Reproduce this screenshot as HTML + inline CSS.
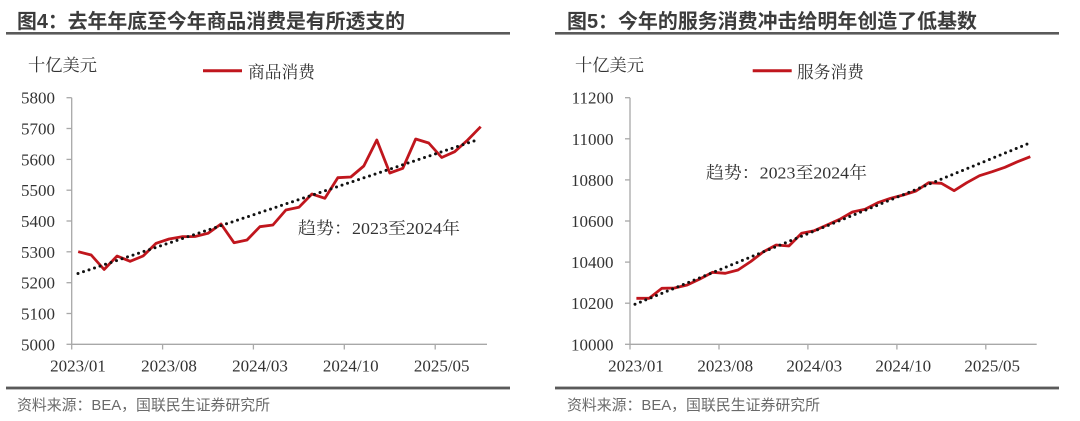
<!DOCTYPE html>
<html><head><meta charset="utf-8"><style>
html,body{margin:0;padding:0;background:#fff;}
svg{display:block;}
.t{font-family:"Liberation Sans","Noto Sans CJK SC",sans-serif;font-weight:bold;font-size:20px;fill:#3c3c3c;}
.s{font-family:"Liberation Sans","Noto Sans CJK SC",sans-serif;font-size:15px;fill:#6a6a6a;}
.c, .c text{font-family:"Liberation Serif","Noto Serif CJK SC",serif;font-size:17px;fill:#333;}
</style></head><body>
<svg width="1080" height="421" viewBox="0 0 1080 421" xmlns="http://www.w3.org/2000/svg">
<!-- Titles -->
<text class="t" x="17" y="28" textLength="388" lengthAdjust="spacingAndGlyphs">图4：去年年底至今年商品消费是有所透支的</text>
<text class="t" x="567" y="28" textLength="410" lengthAdjust="spacingAndGlyphs">图5：今年的服务消费冲击给明年创造了低基数</text>
<rect x="6" y="32" width="504" height="2.6" fill="#5a5a5a"/>
<rect x="555" y="32" width="504" height="2.6" fill="#5a5a5a"/>
<rect x="6" y="386.6" width="504" height="2.8" fill="#5a5a5a"/>
<rect x="555" y="386.6" width="504" height="2.8" fill="#5a5a5a"/>
<text class="s" x="17" y="410" textLength="253" lengthAdjust="spacingAndGlyphs">资料来源：BEA，国联民生证券研究所</text>
<text class="s" x="567" y="410" textLength="253" lengthAdjust="spacingAndGlyphs">资料来源：BEA，国联民生证券研究所</text>

<!-- LEFT CHART -->
<g font-family="Liberation Serif, Noto Serif CJK SC, serif" font-size="17" fill="#333">
<text class="c" font-family="Liberation Serif, Noto Serif CJK SC, serif" x="28" y="71" textLength="69" lengthAdjust="spacingAndGlyphs">十亿美元</text>
<text class="c" font-family="Liberation Serif, Noto Serif CJK SC, serif" x="248" y="78" textLength="67" lengthAdjust="spacingAndGlyphs">商品消费</text>
</g>
<line x1="203" y1="70.7" x2="242" y2="70.7" stroke="#c0161d" stroke-width="3"/>
<g stroke="#a8a8a8" stroke-width="1.3" fill="none">
<line x1="71.7" y1="97.7" x2="71.7" y2="349.5"/>
<line x1="71.7" y1="344.3" x2="487" y2="344.3"/>
<line x1="66.5" y1="97.7" x2="71.7" y2="97.7"/>
<line x1="66.5" y1="128.5" x2="71.7" y2="128.5"/>
<line x1="66.5" y1="159.4" x2="71.7" y2="159.4"/>
<line x1="66.5" y1="190.2" x2="71.7" y2="190.2"/>
<line x1="66.5" y1="221" x2="71.7" y2="221"/>
<line x1="66.5" y1="251.8" x2="71.7" y2="251.8"/>
<line x1="66.5" y1="282.7" x2="71.7" y2="282.7"/>
<line x1="66.5" y1="313.5" x2="71.7" y2="313.5"/>
<line x1="66.5" y1="344.3" x2="71.7" y2="344.3"/>
<line x1="162.6" y1="344.3" x2="162.6" y2="349.5"/>
<line x1="253.4" y1="344.3" x2="253.4" y2="349.5"/>
<line x1="344.3" y1="344.3" x2="344.3" y2="349.5"/>
<line x1="435.2" y1="344.3" x2="435.2" y2="349.5"/>
</g>
<g class="c" font-family="Liberation Serif, serif" font-size="17" fill="#333" text-anchor="end">
<text font-family="Liberation Serif, serif" x="55" y="103.7">5800</text>
<text font-family="Liberation Serif, serif" x="55" y="134.5">5700</text>
<text font-family="Liberation Serif, serif" x="55" y="165.4">5600</text>
<text font-family="Liberation Serif, serif" x="55" y="196.2">5500</text>
<text font-family="Liberation Serif, serif" x="55" y="227">5400</text>
<text font-family="Liberation Serif, serif" x="55" y="257.8">5300</text>
<text font-family="Liberation Serif, serif" x="55" y="288.7">5200</text>
<text font-family="Liberation Serif, serif" x="55" y="319.5">5100</text>
<text font-family="Liberation Serif, serif" x="55" y="350.3">5000</text>
</g>
<g class="c" font-family="Liberation Serif, serif" font-size="17" fill="#333" text-anchor="middle">
<text font-family="Liberation Serif, serif" x="78" y="371.5">2023/01</text>
<text font-family="Liberation Serif, serif" x="169" y="371.5">2023/08</text>
<text font-family="Liberation Serif, serif" x="260" y="371.5">2024/03</text>
<text font-family="Liberation Serif, serif" x="350.8" y="371.5">2024/10</text>
<text font-family="Liberation Serif, serif" x="441.7" y="371.5">2025/05</text>
</g>
<polyline fill="none" stroke="#c0161d" stroke-width="2.8" stroke-linejoin="round" points="78.2,251.7 91.2,255 104.1,269.5 117.1,256 130.1,261.3 143.1,256 156.1,243.3 169.1,239 182,236.7 195,236.5 208,233.3 221,224 234,242.7 247,240 259.9,226.7 272.9,225 285.9,210 298.9,207.3 311.9,194 324.9,198.3 337.8,177.7 350.8,177 363.8,166 376.8,140 389.8,173 402.8,168.3 415.7,139 428.7,143 441.7,157.5 454.7,151.7 467.7,140 480.7,126.7"/>
<line x1="78" y1="273.5" x2="479" y2="139.3" stroke="#111" stroke-width="3" stroke-linecap="round" stroke-dasharray="0 5.8"/>
<text class="c" font-family="Liberation Serif, Noto Serif CJK SC, serif" font-size="17" fill="#333" x="298" y="234" textLength="162" lengthAdjust="spacingAndGlyphs">趋势：2023至2024年</text>

<!-- RIGHT CHART -->
<text class="c" font-family="Liberation Serif, Noto Serif CJK SC, serif" font-size="17" fill="#333" x="575" y="71" textLength="69" lengthAdjust="spacingAndGlyphs">十亿美元</text>
<line x1="752.7" y1="70.7" x2="791.7" y2="70.7" stroke="#c0161d" stroke-width="3"/>
<text class="c" font-family="Liberation Serif, Noto Serif CJK SC, serif" font-size="17" fill="#333" x="797" y="78" textLength="67" lengthAdjust="spacingAndGlyphs">服务消费</text>
<g stroke="#a8a8a8" stroke-width="1.3" fill="none">
<line x1="630" y1="97.7" x2="630" y2="349.5"/>
<line x1="630" y1="344.3" x2="1036.7" y2="344.3"/>
<line x1="625" y1="97.7" x2="630" y2="97.7"/>
<line x1="625" y1="138.8" x2="630" y2="138.8"/>
<line x1="625" y1="179.9" x2="630" y2="179.9"/>
<line x1="625" y1="221" x2="630" y2="221"/>
<line x1="625" y1="262.1" x2="630" y2="262.1"/>
<line x1="625" y1="303.2" x2="630" y2="303.2"/>
<line x1="625" y1="344.3" x2="630" y2="344.3"/>
<line x1="719" y1="344.3" x2="719" y2="349.5"/>
<line x1="807.9" y1="344.3" x2="807.9" y2="349.5"/>
<line x1="896.9" y1="344.3" x2="896.9" y2="349.5"/>
<line x1="985.8" y1="344.3" x2="985.8" y2="349.5"/>
</g>
<g class="c" font-family="Liberation Serif, serif" font-size="17" fill="#333" text-anchor="end">
<text font-family="Liberation Serif, serif" x="613.5" y="103.7">11200</text>
<text font-family="Liberation Serif, serif" x="613.5" y="144.8">11000</text>
<text font-family="Liberation Serif, serif" x="613.5" y="185.9">10800</text>
<text font-family="Liberation Serif, serif" x="613.5" y="227">10600</text>
<text font-family="Liberation Serif, serif" x="613.5" y="268.1">10400</text>
<text font-family="Liberation Serif, serif" x="613.5" y="309.2">10200</text>
<text font-family="Liberation Serif, serif" x="613.5" y="350.3">10000</text>
</g>
<g class="c" font-family="Liberation Serif, serif" font-size="17" fill="#333" text-anchor="middle">
<text font-family="Liberation Serif, serif" x="636" y="371.5">2023/01</text>
<text font-family="Liberation Serif, serif" x="725.3" y="371.5">2023/08</text>
<text font-family="Liberation Serif, serif" x="814.3" y="371.5">2024/03</text>
<text font-family="Liberation Serif, serif" x="903.3" y="371.5">2024/10</text>
<text font-family="Liberation Serif, serif" x="992.2" y="371.5">2025/05</text>
</g>
<polyline fill="none" stroke="#c0161d" stroke-width="2.8" stroke-linejoin="round" points="636.4,298.3 649.1,298.3 661.8,288.3 674.5,288 687.2,285 699.9,279 712.6,272.3 725.3,273.3 738,270 750.8,261.5 763.5,251.7 776.2,245 788.9,246 801.6,233.3 814.3,230.7 827,225 839.7,219.3 852.4,212 865.1,209.3 877.8,202.7 890.5,198.3 903.3,195 916,191 928.7,182.7 941.4,183.3 954.1,190.7 966.8,182.7 979.5,175.7 992.2,171.7 1004.9,167.3 1017.6,161.7 1030.3,156.7"/>
<line x1="635" y1="304.3" x2="1027.3" y2="144" stroke="#111" stroke-width="3" stroke-linecap="round" stroke-dasharray="0 5.8"/>
<text class="c" font-family="Liberation Serif, Noto Serif CJK SC, serif" font-size="17" fill="#333" x="706" y="178.5" textLength="161" lengthAdjust="spacingAndGlyphs">趋势：2023至2024年</text>
</svg>
</body></html>
